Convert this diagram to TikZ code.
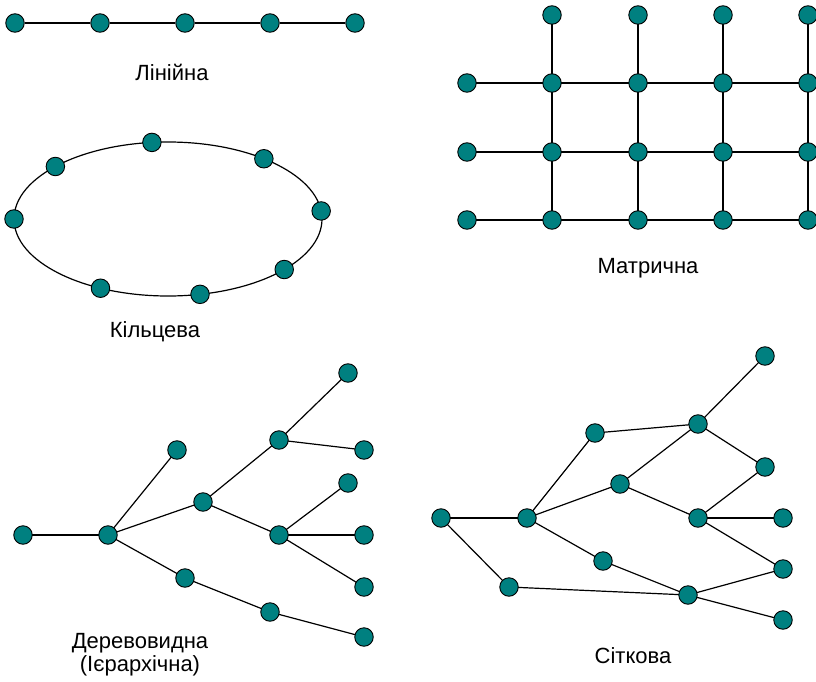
\documentclass[tikz,border=0pt]{standalone}
\usepackage{fontspec}
\setmainfont{Liberation Sans}
\definecolor{teal0}{HTML}{008080}
\begin{document}
\begin{tikzpicture}[x=1pt,y=-1pt,
  nd/.style={circle,draw=black,line width=0.9pt,fill=teal0,minimum size=18.5pt,inner sep=0pt},
  ln/.style={draw=black,line width=1.2pt},
  lbl/.style={font=\fontsize{22}{23}\selectfont,align=center,inner sep=0pt,anchor=base}]
\useasboundingbox (0,0) rectangle (816,682);
% ---------- Linear ----------
\foreach \i/\x in {1/15,2/100,3/185,4/270,5/355} \node[nd] (l\i) at (\x,23) {};
\draw[ln] (l1) -- (l2) (l2) -- (l3) (l3) -- (l4) (l4) -- (l5);
\node[lbl] (tlin) at (172,81) {Лінійна};
% ---------- Ring ----------
\draw[ln] (168,219) ellipse [x radius=154, y radius=77];
\foreach \i/\t in {1/180,2/137,3/96,4/51.5,5/6,6/-41,7/-78,8/-116}
  \node[nd] (r\i) at ({168+154*cos(\t)},{219-77*sin(\t)}) {};
\node[lbl] (tring) at (155,337) {Кільцева};
% ---------- Matrix ----------
\foreach \c/\x in {1/467,2/552,3/638,4/723,5/808}
  \foreach \r/\y in {2/83,3/152,4/220}
    \coordinate (m\c\r) at (\x,\y);
\foreach \c/\x in {2/552,3/638,4/723,5/808}
  \coordinate (m\c1) at (\x,15);
\foreach \r in {2,3,4} \draw[ln] (m1\r) -- (m5\r);
\foreach \c in {2,3,4,5} \draw[ln] (m\c1) -- (m\c4);
\foreach \c in {1,...,5} \foreach \r in {2,3,4} \node[nd] (n\c\r) at (m\c\r) {};
\foreach \c in {2,...,5} \node[nd] (n\c1) at (m\c1) {};
\node[lbl] (tmat) at (648,273) {Матрична};
% ---------- Tree ----------
\foreach \n/\x/\y in {A/23/535,B/108/535,C/177/450,D/203/502,E/279/440,F/348/373,G/364/450,
  H/279/535,I/348/483,J/364/535,K/364/587,L/185/578,M/270/612,N/364/637}
  \coordinate (t\n) at (\x,\y);
\foreach \a/\b in {A/B,B/C,B/D,B/L,D/E,D/H,E/F,E/G,H/I,H/J,H/K,L/M,M/N}
  \draw[ln] (t\a) -- (t\b);
\foreach \n in {A,B,C,D,E,F,G,H,I,J,K,L,M,N} \node[nd] (T\n) at (t\n) {};
\node[lbl] (ttree) at (140,671) {Деревовидна\\(Ієрархічна)};
% ---------- Mesh ----------
\foreach \n/\x/\y in {a/441/518,b/527/518,c/595/433,d/620/484,e/698/424,f/765/356,g/765/467,
  h/698/518,i/783/518,j/783/569,k/603/561,l/509/587,m/688/595,n/783/620}
  \coordinate (s\n) at (\x,\y);
\foreach \a/\b in {a/b,a/l,b/c,b/d,b/k,c/e,d/e,d/h,e/f,e/g,g/h,h/i,h/j,k/m,l/m,m/j,m/n}
  \draw[ln] (s\a) -- (s\b);
\foreach \n in {a,b,c,d,e,f,g,h,i,j,k,l,m,n} \node[nd] (S\n) at (s\n) {};
\node[lbl] (tmesh) at (633,663) {Сіткова};
\end{tikzpicture}
\end{document}
